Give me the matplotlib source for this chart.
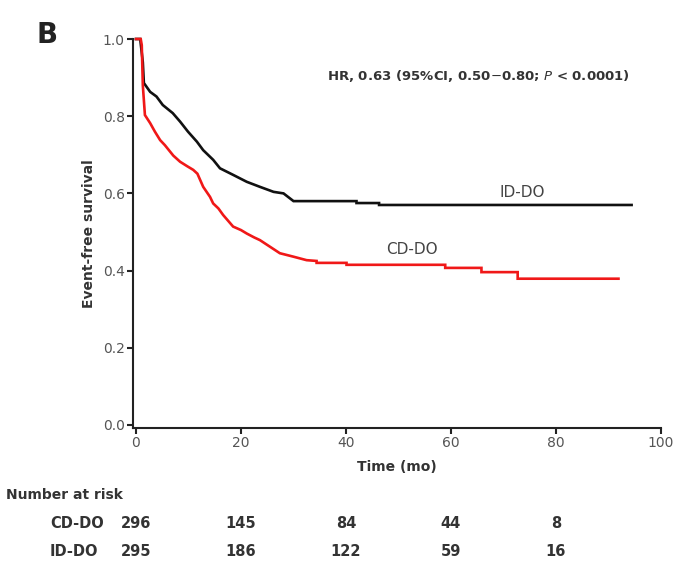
import matplotlib
matplotlib.use("Agg")
import matplotlib.pyplot as plt
import matplotlib.transforms as mtransforms

# ---- data ----
id_do_time = [0, 0.8, 1.3, 1.5, 2.7, 3.9, 5.1, 7.0, 8.4, 9.9, 11.6, 12.8, 14.7, 16.0,
              18.5, 21.1, 23.6, 26.2, 28.1, 30.0, 42.0, 42.0, 46.3, 46.3, 94.4]
id_do_surv = [1.0, 1.0, 0.94, 0.886, 0.863, 0.851, 0.829, 0.808, 0.786, 0.760, 0.734, 0.712,
              0.687, 0.665, 0.648, 0.630, 0.617, 0.604, 0.600, 0.580, 0.580, 0.575, 0.575,
              0.570, 0.570]

cd_do_time = [0, 0.9, 1.1, 1.3, 1.7, 2.7, 3.6, 4.6, 5.5, 7.1, 8.4, 9.8, 10.9, 11.7, 12.8,
              14.1, 14.7, 15.7, 16.6, 18.5, 20.0, 21.1, 22.5, 23.6, 25.5, 27.4, 30.0, 32.5,
              34.4, 34.4, 40.1, 40.1, 58.9, 58.9, 65.8, 65.8, 72.7, 72.7, 91.9]
cd_do_surv = [1.0, 1.0, 0.984, 0.88, 0.803, 0.782, 0.760, 0.738, 0.725, 0.698, 0.682, 0.670,
              0.661, 0.651, 0.617, 0.591, 0.574, 0.561, 0.544, 0.514, 0.505, 0.496, 0.486,
              0.479, 0.462, 0.445, 0.436, 0.427, 0.425, 0.420, 0.420, 0.415, 0.415, 0.407,
              0.407, 0.396, 0.396, 0.379, 0.379]

risk_times = [0, 20, 40, 60, 80]
risk_cd_do = [296, 145, 84, 44, 8]
risk_id_do = [295, 186, 122, 59, 16]

x_ticks = [0, 20, 40, 60, 80, 100]
y_ticks = [0.0, 0.2, 0.4, 0.6, 0.8, 1.0]

# ---- figure ----
W, H = 682, 566
fig = plt.figure(figsize=(W / 100, H / 100), dpi=100)
plt.rcParams['font.family'] = ['DejaVu Sans']

left, right, bottom, top = 133 / W, 661 / W, 1 - 428 / H, 1 - 39 / H
ax = fig.add_axes([left, bottom, right - left, top - bottom])

ax.plot(id_do_time, id_do_surv, color='#111111', lw=1.9, clip_on=False,
        solid_joinstyle='miter')
ax.plot(cd_do_time, cd_do_surv, color='#f01818', lw=1.9, clip_on=False,
        solid_joinstyle='miter')

ax.set_xlim(-0.57, 100)
ax.set_ylim(-0.0078, 1.0)
ax.set_xticks(x_ticks)
ax.set_yticks(y_ticks)
ax.set_yticklabels([f"{v:.1f}" for v in y_ticks])
for s in ['top', 'right']:
    ax.spines[s].set_visible(False)
for s in ['left', 'bottom']:
    ax.spines[s].set_linewidth(1.5)
    ax.spines[s].set_color('#222222')
ax.tick_params(direction='out', length=4, width=1.5, color='#222222',
               labelsize=10, labelcolor='#555555', pad=2)

ax.set_xlabel('Time (mo)', fontsize=10, fontweight='bold', color='#333333', labelpad=7)
ax.set_ylabel('Event-free survival', fontsize=10, fontweight='bold', color='#333333',
              labelpad=5)

# annotations
ax.text(0.655, 0.905, r'HR, 0.63 (95%CI, 0.50$-$0.80; $\bf\it{P}$ < 0.0001)',
        transform=ax.transAxes, ha='center', va='center', fontsize=9.5,
        fontweight='bold', color='#333333')
ax.text(73.5, 0.603, 'ID-DO', ha='center', va='center', fontsize=11, color='#444444')
ax.text(52.5, 0.455, 'CD-DO', ha='center', va='center', fontsize=11, color='#444444')

fig.text(47 / W, 1 - 35 / H, 'B', ha='center', va='center', fontsize=20,
         fontweight='bold', color='#222222')

# number at risk table
trans = mtransforms.blended_transform_factory(ax.transData, fig.transFigure)
fig.text(6 / W, 1 - 495 / H, 'Number at risk', ha='left', va='center', fontsize=10,
         fontweight='bold', color='#333333')
fig.text(50 / W, 1 - 524 / H, 'CD-DO', ha='left', va='center', fontsize=10.5,
         fontweight='bold', color='#333333')
fig.text(50 / W, 1 - 551 / H, 'ID-DO', ha='left', va='center', fontsize=10.5,
         fontweight='bold', color='#333333')
for t, a, b in zip(risk_times, risk_cd_do, risk_id_do):
    ax.text(t, 1 - 524 / H, str(a), transform=trans, ha='center', va='center',
            fontsize=10.5, fontweight='bold', color='#333333')
    ax.text(t, 1 - 551 / H, str(b), transform=trans, ha='center', va='center',
            fontsize=10.5, fontweight='bold', color='#333333')

fig.savefig('out.png', dpi=100)
